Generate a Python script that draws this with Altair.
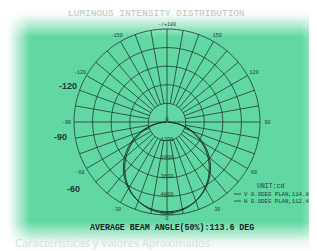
import altair as alt
import pandas as pd

# ---------------- data ----------------
TITLE = "LUMINOUS INTENSITY DISTRIBUTION"
FOOTER = "Características y Valores Aproximados"
BEAM_TEXT = "AVERAGE BEAM ANGLE(50%):113.6 DEG"
UNIT_TEXT = "UNIT:cd"
LEGEND_LABELS = ["V 0.0DEG PLAN,114.8", "H 0.0DEG PLAN,112.4"]

RINGS = [1200, 2400, 3600, 4800, 6000]
RING_LABEL_VALUES = [0, 1200, 2400, 3600, 4800, 6000]
RING_LABELS = ["0", "1200", "2400", "3600", "4800", "6000"]
SPOKE_ANGLES = list(range(-170, 181, 10))
TICK_ANGLES = [180, -150, 150, -120, 120, -90, 90, -60, 60, -30, 30, 0]
TICK_LABELS = ["-/+180", "-150", "150", "-120", "120", "-90", "90",
               "-60", "60", "-30", "30", "0"]
BIG_LABELS = ["-120", "-90", "-60"]

ANGLES = [-90, -80, -70, -60, -50, -40, -30, -20, -10, 0,
          10, 20, 30, 40, 50, 60, 70, 80, 90]
V_CD = [60, 820, 1760, 2700, 3580, 4340, 4960, 5420, 5700, 5790,
        5700, 5420, 4960, 4330, 3570, 2690, 1750, 820, 60]
H_CD = [40, 720, 1600, 2530, 3430, 4230, 4910, 5430, 5760, 5870,
        5760, 5430, 4910, 4230, 3430, 2530, 1600, 720, 40]

# ---------------- layout ----------------
W, H = 301, 243
CX, CY, R_PX, R_MAX = 159, 114, 93, 6000
K = R_MAX / R_PX
XD = [-CX * K, (W - CX) * K]
YD = [-(H - CY) * K, CY * K]

GREEN = "#61d8a3"
INK = "#1e3a2d"
MONO = "Liberation Mono"

xs = alt.Scale(domain=XD, nice=False, zero=False)
ys = alt.Scale(domain=YD, nice=False, zero=False)


def X(f):
    return alt.X(f, type="quantitative", scale=xs, axis=None)


def Y(f):
    return alt.Y(f, type="quantitative", scale=ys, axis=None)


one = alt.Data(values=[{"k": 1}])

# background with faded edges
bg = alt.Chart(one).mark_rect(
    strokeWidth=0,
    color=alt.Gradient(
        gradient="linear", x1=0, x2=0, y1=0, y2=1,
        stops=[
            alt.GradientStop(color="#ffffff", offset=0),
            alt.GradientStop(color="#f6fbf8", offset=0.03),
            alt.GradientStop(color=GREEN, offset=0.12),
            alt.GradientStop(color=GREEN, offset=0.88),
            alt.GradientStop(color="#eef8f3", offset=0.965),
            alt.GradientStop(color="#ffffff", offset=1),
        ],
    ),
).encode(x=alt.value(0), x2=alt.value(W), y=alt.value(0), y2=alt.value(H))

left_fade = alt.Chart(one).mark_rect(
    strokeWidth=0,
    color=alt.Gradient(
        gradient="linear", x1=0, x2=1, y1=0, y2=0,
        stops=[
            alt.GradientStop(color="rgba(255,255,255,1)", offset=0),
            alt.GradientStop(color="rgba(255,255,255,0.6)", offset=0.4),
            alt.GradientStop(color="rgba(255,255,255,0)", offset=1),
        ],
    ),
).encode(x=alt.value(0), x2=alt.value(22), y=alt.value(0), y2=alt.value(H))

right_fade = alt.Chart(one).mark_rect(
    strokeWidth=0,
    color=alt.Gradient(
        gradient="linear", x1=0, x2=1, y1=0, y2=0,
        stops=[
            alt.GradientStop(color="rgba(255,255,255,0)", offset=0),
            alt.GradientStop(color="rgba(255,255,255,0.25)", offset=1),
        ],
    ),
).encode(x=alt.value(293), x2=alt.value(W), y=alt.value(0), y2=alt.value(H))

# rings
ring_rows = [{"r": r, "a": a} for r in RINGS for a in range(0, 361, 3)]
rings = alt.Chart(pd.DataFrame(ring_rows)).transform_calculate(
    px="datum.r*sin(datum.a*PI/180)", py="-datum.r*cos(datum.a*PI/180)"
).mark_line(color=INK, strokeWidth=0.8).encode(
    x=X("px"), y=Y("py"), detail="r:N", order="a:Q"
)

# spokes
spoke_rows = []
for a in SPOKE_ANGLES:
    r0 = 0 if a in (90, -90, 180) else RINGS[0]
    spoke_rows.append({"a": a, "r0": r0, "r1": RINGS[-1]})
spokes = alt.Chart(pd.DataFrame(spoke_rows)).transform_calculate(
    px="datum.r0*sin(datum.a*PI/180)", py="-datum.r0*cos(datum.a*PI/180)",
    px2="datum.r1*sin(datum.a*PI/180)", py2="-datum.r1*cos(datum.a*PI/180)",
).mark_rule(color=INK, strokeWidth=0.8).encode(
    x=X("px"), y=Y("py"), x2="px2:Q", y2="py2:Q"
)

# intensity curves
curve_df = pd.DataFrame(
    [{"a": a, "cd": v, "s": "V"} for a, v in zip(ANGLES, V_CD)]
    + [{"a": a, "cd": v, "s": "H"} for a, v in zip(ANGLES, H_CD)]
)
curves = alt.Chart(curve_df).transform_calculate(
    px="datum.cd*sin(datum.a*PI/180)", py="-datum.cd*cos(datum.a*PI/180)"
).mark_line(color="#16281f", strokeWidth=0.9, interpolate="catmull-rom").encode(
    x=X("px"), y=Y("py"), detail="s:N", order="a:Q"
)

# ring value labels along the lower axis
rl_df = pd.DataFrame({"v": RING_LABEL_VALUES, "t": RING_LABELS})
ring_labels = alt.Chart(rl_df).transform_calculate(
    px="0", py="datum.v == 0 ? 200 : -(datum.v - 130)"
).mark_text(font=MONO, fontSize=5.5, color=INK, baseline="middle").encode(
    x=X("px"), y=Y("py"), text="t:N"
)

# angle tick labels
tl_df = pd.DataFrame({"a": TICK_ANGLES, "t": TICK_LABELS})
tick_labels = alt.Chart(tl_df).transform_calculate(
    rr="datum.a == 0 ? 6180 : (datum.a == 180 ? 6300 : 6480)",
    px="datum.rr*sin(datum.a*PI/180)", py="-datum.rr*cos(datum.a*PI/180)"
).mark_text(font=MONO, fontSize=5, color=INK, baseline="middle").encode(
    x=X("px"), y=Y("py"), text="t:N"
)


def label(text, x, y, size, align="left", color=INK, font=MONO, weight="normal"):
    return alt.Chart(one).mark_text(
        text=text, fontSize=size, align=align, baseline="middle",
        color=color, font=font, fontWeight=weight,
    ).encode(x=alt.value(x), y=alt.value(y))


big1 = label(BIG_LABELS[0], 69, 78, 9, "right", font="Liberation Sans", weight="bold")
big2 = label(BIG_LABELS[1], 59, 129, 9, "right", font="Liberation Sans", weight="bold")
big3 = label(BIG_LABELS[2], 72, 181, 9, "right", font="Liberation Sans", weight="bold")

title = label(TITLE, 60, 5, 9.5, color="#bfc6c2")
footer = label(FOOTER, 7, 236, 11, color="#d9dedb", font="Open Sans")
beam = label(BEAM_TEXT, 82, 220, 8.3, weight="bold", color="#13241b")
unit = label(UNIT_TEXT, 249, 178, 6.5)
leg1 = label(LEGEND_LABELS[0], 236, 186, 5.7)
leg2 = label(LEGEND_LABELS[1], 236, 193, 5.7)
dash1 = alt.Chart(one).mark_rule(color=INK, strokeWidth=0.8).encode(
    x=alt.value(226), x2=alt.value(233), y=alt.value(186))
dash2 = alt.Chart(one).mark_rule(color=INK, strokeWidth=0.8).encode(
    x=alt.value(226), x2=alt.value(233), y=alt.value(193))

chart = alt.layer(
    bg, left_fade, right_fade, rings, spokes, curves, ring_labels, tick_labels,
    big1, big2, big3, title, footer, beam, unit, leg1, leg2, dash1, dash2,
).properties(
    width=W, height=H, padding=0, autosize="none", background="white"
).configure_view(stroke=None)

chart.save("out.html", embed_options={"renderer": "svg", "actions": False})
